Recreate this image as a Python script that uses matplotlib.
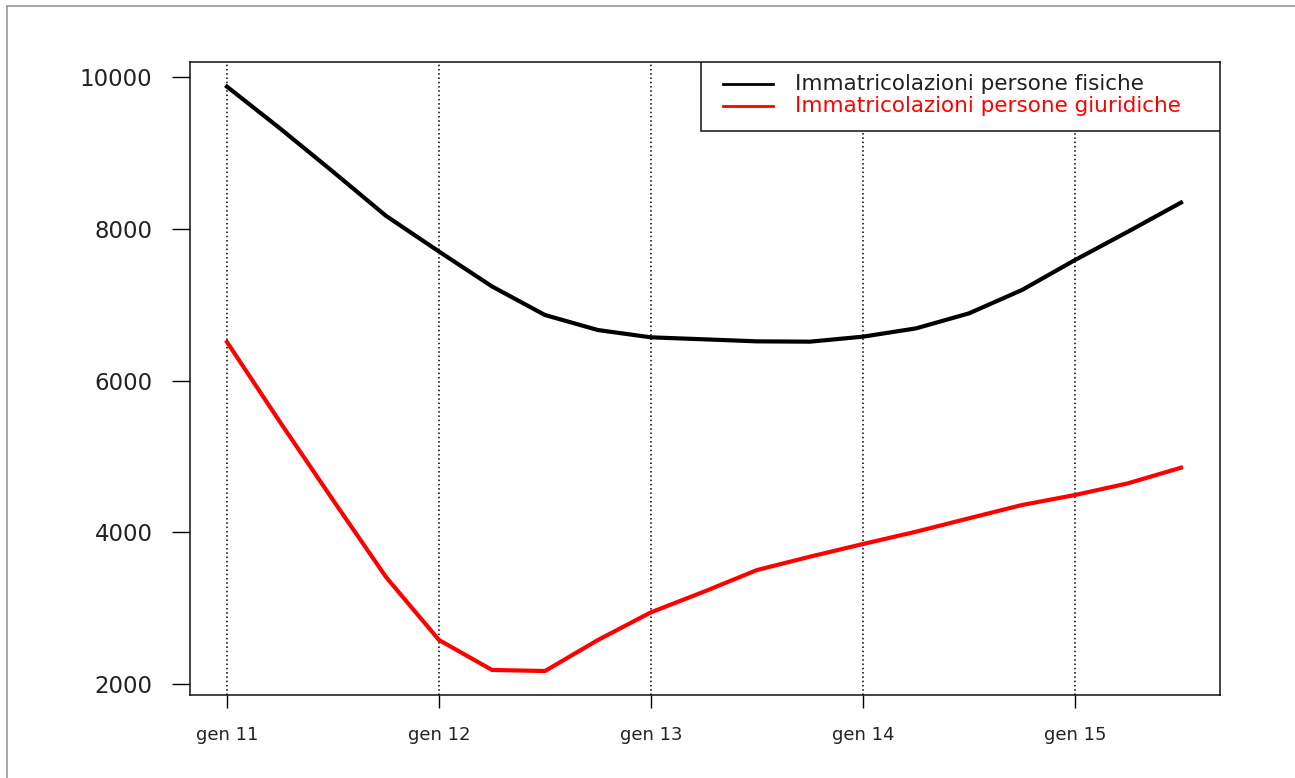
import matplotlib
matplotlib.use('Agg')
import matplotlib.pyplot as plt
from matplotlib.lines import Line2D
from matplotlib.patches import Rectangle

# quarterly data, gen 2011 .. lug 2015
periods = [2011 + q / 4 for q in range(19)]
fisiche = [9873, 9323, 8752, 8170, 7700, 7240, 6863, 6665, 6569, 6543,
           6516, 6512, 6578, 6687, 6885, 7193, 7588, 7962, 8345]
giuridiche = [6507, 5453, 4425, 3410, 2580, 2185, 2171, 2580, 2945, 3217,
              3502, 3678, 3845, 4007, 4184, 4359, 4491, 4645, 4851]
labels = ['Immatricolazioni persone fisiche', 'Immatricolazioni persone giuridiche']
colors = ['black', '#ff0000']
xtick_pos = [2011, 2012, 2013, 2014, 2015]
xtick_labels = ['gen 11', 'gen 12', 'gen 13', 'gen 14', 'gen 15']
ytick_pos = [2000, 4000, 6000, 8000, 10000]

plt.rcParams['font.family'] = 'DejaVu Sans'

fig = plt.figure(figsize=(12.95, 7.78), dpi=100)
ax = fig.add_axes([190 / 1295, 83 / 778, 1030 / 1295, 633 / 778])

# dotted vertical grid at january of each year
for xp in xtick_pos:
    ax.axvline(xp, color='black', lw=1.1, ls=(0, (1, 1.8)), zorder=1)

ax.plot(periods, fisiche, color=colors[0], lw=3, zorder=3)
ax.plot(periods, giuridiche, color=colors[1], lw=3, zorder=3)

ax.set_xlim(2010.8255, 2015.684)
ax.set_ylim(1855, 10198)

ax.set_xticks(xtick_pos)
ax.set_xticklabels(xtick_labels, fontsize=13, color='#222222')
ax.set_yticks(ytick_pos)
ax.set_yticklabels([str(v) for v in ytick_pos], fontsize=16.5, color='#222222')
ax.tick_params(axis='x', direction='out', length=9.5, width=1, pad=13)
ax.tick_params(axis='y', direction='out', length=13, width=1, pad=14)
for s in ax.spines.values():
    s.set_linewidth(1.1)
    s.set_color('#111111')

# legend box drawn like R's legend()
ax.add_patch(Rectangle((0.4961, 0.891), 1 - 0.4961, 0.109, transform=ax.transAxes,
                       facecolor='white', edgecolor='#111111', lw=1.1, zorder=4))
for i, (lab, col) in enumerate(zip(labels, colors)):
    yy = 0.9652 - i * 0.0347
    ax.add_line(Line2D([0.5175, 0.566], [yy, yy], transform=ax.transAxes,
                       color=col, lw=2, zorder=5))
    ax.text(0.5874, yy, lab, transform=ax.transAxes, color=col if i else '#222222',
            fontsize=15.5, va='center', ha='left', zorder=5)

# outer frame fragments
fig.add_artist(Line2D([7 / 1295, 1], [1 - 6 / 778, 1 - 6 / 778], color='#999999', lw=1.2))
fig.add_artist(Line2D([7 / 1295, 7 / 1295], [0, 1 - 6 / 778], color='#999999', lw=1.2))

fig.savefig('out.png', dpi=100)
